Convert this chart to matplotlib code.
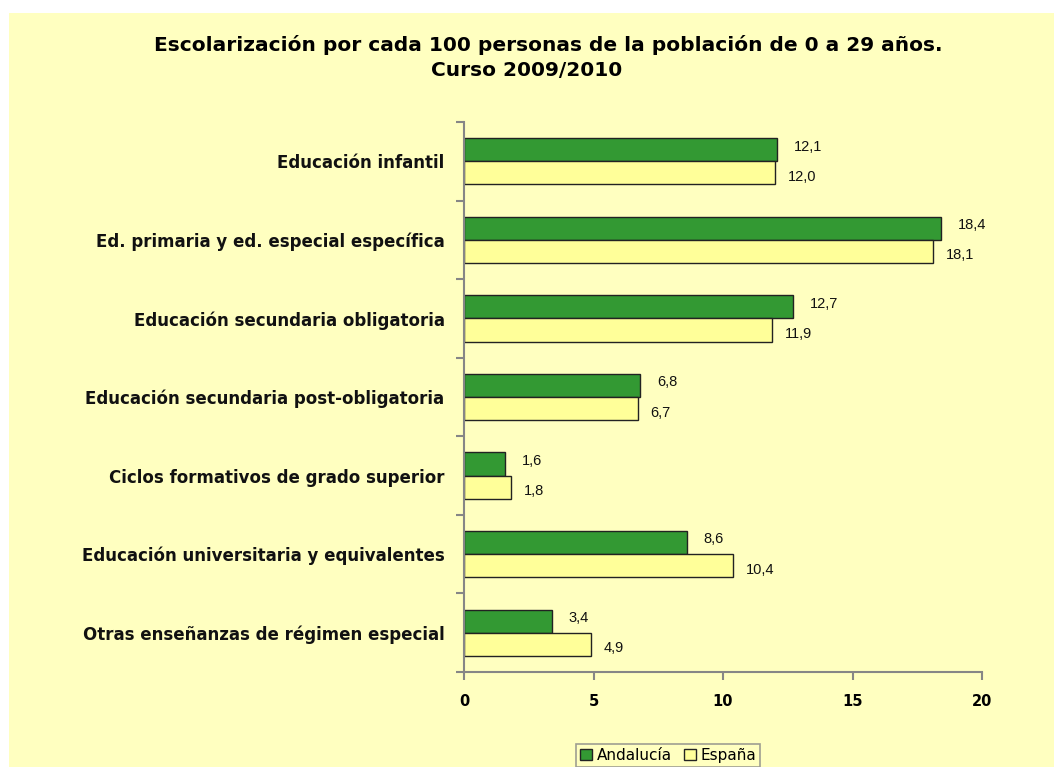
import matplotlib.pyplot as plt
from matplotlib.patches import Rectangle
import numpy as np

categorias = ['Educación infantil',
	'Ed. primaria y ed. especial específica',
	'Educación secundaria obligatoria',
	'Educación secundaria post-obligatoria',
	'Ciclos formativos de grado superior',
	'Educación universitaria y equivalentes',
	'Otras enseñanzas de régimen especial']
andalucia = [12.1, 18.4, 12.7, 6.8, 1.6, 8.6, 3.4]
espana = [12.0, 18.1, 11.9, 6.7, 1.8, 10.4, 4.9]
series = ['Andalucía', 'España']
xticks = [0, 5, 10, 15, 20]

bg = '#FFFFC0'
verde = '#339933'
amarillo = '#FFFF99'
gris = '#868686'

fig = plt.figure(figsize=(10.54, 7.67), dpi=100, facecolor='white')
fig.patches.append(Rectangle((9/1054, 0), 1, 1 - 13/767, transform=fig.transFigure,
	facecolor=bg, edgecolor='none', zorder=-10))

ax = fig.add_axes([464/1054, 1 - 672/767, 518/1054, 550/767])
ax.set_facecolor('none')

y = np.arange(len(categorias))
h = 0.295
b1 = ax.barh(y - h/2, andalucia, height=h, color=verde, edgecolor='#222222', linewidth=1.0, label=series[0])
b2 = ax.barh(y + h/2, espana, height=h, color=amarillo, edgecolor='#222222', linewidth=1.0, label=series[1])

lbl_font = ['Liberation Sans Narrow', 'Liberation Sans', 'DejaVu Sans']
for i in range(len(categorias)):
	ax.text(andalucia[i] + 0.65, y[i] - h/2 - 0.04, ('%.1f' % andalucia[i]).replace('.', ','),
		ha='left', va='center', fontsize=10.5, family=lbl_font, color='#111111')
	ax.text(espana[i] + 0.5, y[i] + h/2 + 0.05, ('%.1f' % espana[i]).replace('.', ','),
		ha='left', va='center', fontsize=10.5, family=lbl_font, color='#111111')

ax.set_xlim(0, 20)
ax.set_ylim(len(categorias) - 0.5, -0.5)
ax.set_xticks(xticks)
ax.set_xticklabels([str(v) for v in xticks], fontsize=10.5, fontweight='bold', family='DejaVu Sans')
ax.set_yticks(y)
ax.set_yticklabels(categorias, fontsize=12, fontweight='bold', family='DejaVu Sans', color='#111111')
ax.set_yticks(np.arange(len(categorias) + 1) - 0.5, minor=True)
ax.tick_params(axis='y', which='major', length=0, pad=14)
ax.tick_params(axis='y', which='minor', length=6, width=1.5, color=gris, direction='out')
ax.tick_params(axis='x', length=6, width=1.5, color=gris, direction='out', pad=10)

for s in ['top', 'right']:
	ax.spines[s].set_visible(False)
for s in ['left', 'bottom']:
	ax.spines[s].set_color(gris)
	ax.spines[s].set_linewidth(1.5)

fig.text(548/1054, 1 - 45/767, 'Escolarización por cada 100 personas de la población de 0 a 29 años.',
	ha='center', va='center', fontsize=14.5, fontweight='bold', family='DejaVu Sans')
fig.text(527/1054, 1 - 71/767, 'Curso 2009/2010',
	ha='center', va='center', fontsize=14.5, fontweight='bold', family='DejaVu Sans')

leg = fig.legend(handles=[b1, b2], loc='upper center', bbox_to_anchor=(668/1054, 1 - 744/767),
	ncol=2, frameon=True, fancybox=False, fontsize=11, handlelength=0.8, handleheight=0.8,
	handletextpad=0.3, columnspacing=0.8, borderpad=0.25, borderaxespad=0)
leg.get_frame().set_facecolor(bg)
leg.get_frame().set_edgecolor(gris)
leg.get_frame().set_linewidth(1.2)

fig.savefig('out.png', dpi=100, facecolor='white')
